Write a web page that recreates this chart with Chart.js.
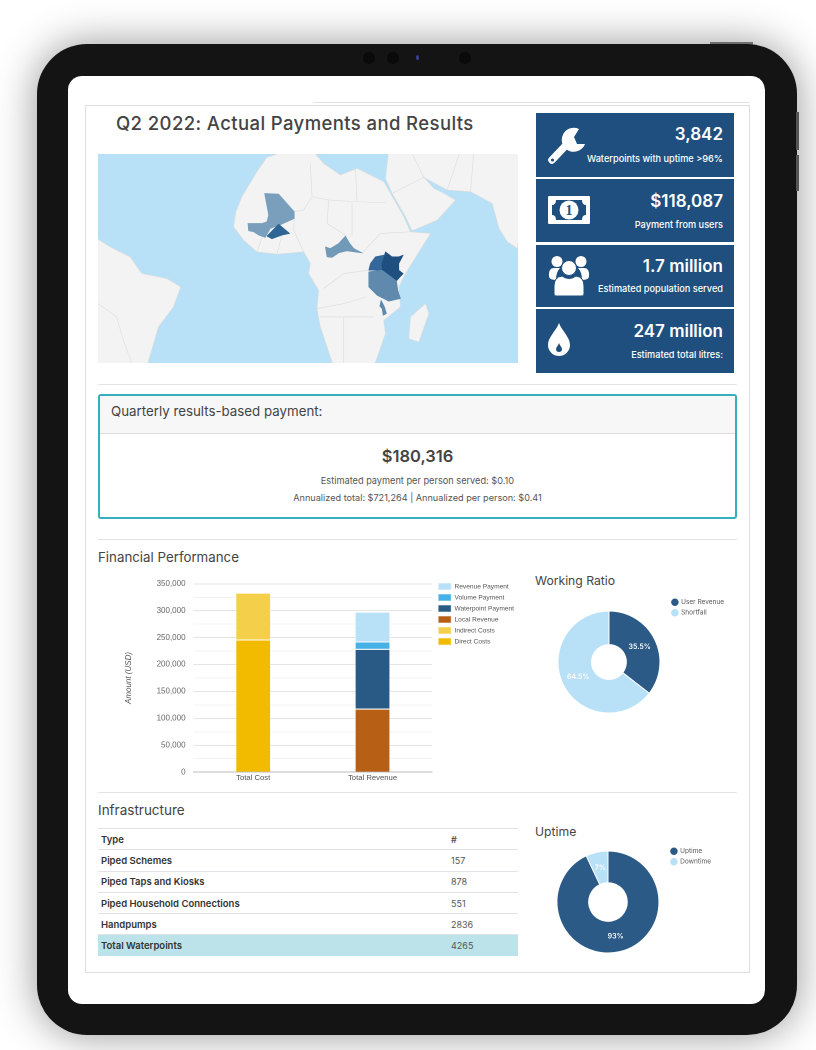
<!DOCTYPE html>
<html>
<head>
<meta charset="utf-8">
<script src="https://cdn.jsdelivr.net/npm/chart.js@4"></script>
<style>
html, body { margin: 0; padding: 0; background: #fff; }
body { width: 816px; height: 1050px; position: relative; overflow: hidden; font-family: Inter, sans-serif; color: #444; }
.box { position: absolute; box-sizing: border-box; }
.t { position: absolute; white-space: nowrap; transform: translateY(-50%); }
.line { position: absolute; height: 1px; background: #e2e2e2; }
.card { position: absolute; left: 536px; width: 198px; background: #1e4f7e; color: #fff; }
.card .v { position: absolute; right: 11px; font-size: 17px; font-weight: 600; transform: translateY(-50%); white-space: nowrap; }
.card .l { position: absolute; right: 11px; font-size: 9.2px; font-weight: 500; transform: translateY(-50%); white-space: nowrap; }
.card svg { position: absolute; }
canvas { position: absolute; }
table { position: absolute; left: 98px; top: 828px; width: 420px; border-collapse: collapse; table-layout: fixed; font-size: 9.5px; color: #333; border-top: 1px solid #dfe3e6; }
td { height: 20.3px; padding: 0 0 0 3px; border-bottom: 1px solid #dfe3e6; }
td:first-child { font-weight: 600; width: 347px; }
td:last-child { color: #555; font-size: 9px; }
tr.total td { background: #bde3ea; border-top: 1px solid #7fcbd8; border-bottom: 0; }
</style>
</head>
<body>
<!-- tablet frame -->
<div class="box" style="left:710px;top:42px;width:43px;height:4px;background:#888;"></div>
<div class="box" style="left:37px;top:44px;width:760px;height:991px;background:#141414;border-radius:50px;box-shadow:0 0 42px rgba(0,0,0,.42);"></div>
<div class="box" style="left:796px;top:112px;width:3px;height:38px;background:#555;"></div>
<div class="box" style="left:796px;top:155px;width:3px;height:36px;background:#555;"></div>
<div class="box" style="left:363px;top:52px;width:12px;height:12px;border-radius:50%;background:#0a0a0a;"></div>
<div class="box" style="left:387px;top:52px;width:12px;height:12px;border-radius:50%;background:#0a0a0a;"></div>
<div class="box" style="left:416px;top:55px;width:3px;height:5px;border-radius:50%;background:#3a3f9a;"></div>
<div class="box" style="left:459px;top:52px;width:12px;height:12px;border-radius:50%;background:#0a0a0a;"></div>
<div class="box" style="left:68px;top:76px;width:697px;height:928px;background:#fff;border-radius:14px;"></div>

<!-- dashboard frame -->
<div class="line" style="left:313px;top:102px;width:437px;"></div>
<div class="box" style="left:85px;top:105px;width:665px;height:868px;border:1px solid #dedede;"></div>

<div class="t" style="left:116px;top:123px;font-size:18.5px;font-weight:500;letter-spacing:.4px;color:#444;">Q2 2022: Actual Payments and Results</div>
<canvas id="mapChart" style="left:98px;top:154px;width:420px;height:209px;"></canvas>

<div id="cards"></div>

<div class="line" style="left:98px;top:384px;width:639px;"></div>
<div class="box" style="left:98px;top:394px;width:639px;height:125px;border:2px solid #35aebd;border-radius:3px;overflow:hidden;">
  <div class="box" style="left:0;top:0;width:100%;height:38px;background:#f7f7f7;border-bottom:1px solid #dcdcdc;"></div>
</div>
<div class="t" style="left:111px;top:411px;font-size:13.3px;font-weight:400;">Quarterly results-based payment:</div>
<div class="t" style="left:98px;width:639px;text-align:center;top:456px;font-size:16.5px;font-weight:600;">$180,316</div>
<div class="t" style="left:98px;width:639px;text-align:center;top:480px;font-size:9.2px;color:#555;">Estimated payment per person served: $0.10</div>
<div class="t" style="left:98px;width:639px;text-align:center;top:497px;font-size:9.15px;color:#555;">Annualized total: $721,264 | Annualized per person: $0.41</div>

<div class="line" style="left:98px;top:539px;width:639px;"></div>
<div class="t" style="left:98px;top:557px;font-size:13.3px;">Financial Performance</div>
<canvas id="barChart" style="left:124px;top:571px;width:406px;height:214px;"></canvas>
<div class="t" style="left:535px;top:580px;font-size:12.2px;">Working Ratio</div>
<canvas id="ratioChart" style="left:547px;top:592px;width:190px;height:140px;"></canvas>

<div class="line" style="left:98px;top:792px;width:639px;"></div>
<div class="t" style="left:98px;top:810px;font-size:13.5px;">Infrastructure</div>
<table id="infra"></table>
<div class="t" style="left:535px;top:831px;font-size:12.2px;">Uptime</div>
<canvas id="uptimeChart" style="left:540px;top:846px;width:190px;height:112px;"></canvas>

<script>
// stacked bars
const barCategories = ['Total Cost', 'Total Revenue'];
const directCosts = [246600, 0];
const indirectCosts = [87000, 0];
const localRevenue = [0, 118087];
const waterpointPayment = [0, 111000];
const volumePayment = [0, 13700];
const revenuePayment = [0, 55600];
const barTicks = [0, 50000, 100000, 150000, 200000, 250000, 300000, 350000];

// doughnuts
const ratioLabels = ['User Revenue', 'Shortfall'];
const ratioValues = [35.5, 64.5];
const uptimeLabels = ['Uptime', 'Downtime'];
const uptimeValues = [93, 7];

// table
const infraTypes = ['Piped Schemes', 'Piped Taps and Kiosks', 'Piped Household Connections', 'Handpumps'];
const infraCounts = [157, 878, 551, 2836];
const infraTotal = 4265;

// stat cards
const statValues = ['3,842', '$118,087', '1.7 million', '247 million'];
const statLabels = ['Waterpoints with uptime >96%', 'Payment from users', 'Estimated population served', 'Estimated total litres:'];

// map outlines, in map units
const africa = [[530,172],[500,215],[455,290],[437,335],[430,380],[460,420],[500,455],[560,462],[640,455],[660,490],[655,520],[685,570],[680,625],[690,680],[730,800],[850,800],[885,700],[880,660],[930,620],[925,560],[945,520],[1020,400],[960,395],[940,350],[880,245],[800,205],[750,225],[700,190],[665,150],[600,150]];
const asia = [[885,235],[895,150],[1290,150],[1290,370],[1280,445],[1250,425],[1225,385],[1205,310],[1140,275],[1070,270],[1000,232],[1030,265],[1060,280],[1095,300],[1040,360],[965,392],[945,350],[905,280]];
const brazil = [[10,408],[60,440],[120,470],[155,520],[230,535],[272,560],[250,620],[205,680],[170,800],[10,800]];
const madagascar = [[1005,610],[1015,640],[985,725],[955,715],[960,650]];
const mali = [[523,280],[565,282],[612,335],[612,355],[575,372],[540,385],[525,412],[505,405],[490,395],[475,392],[473,370],[515,370],[530,365],[535,345]];
const burkina = [[530,408],[565,372],[598,400],[575,405],[545,416]];
const car = [[705,440],[720,445],[745,430],[765,408],[778,430],[790,445],[815,458],[790,455],[770,452],[745,458],[725,472],[710,470]];
const uganda = [[835,510],[840,490],[855,470],[880,465],[875,510]];
const kenya = [[875,490],[885,455],[905,470],[925,470],[938,465],[925,490],[925,510],[938,520],[918,542],[875,512]];
const tanzania = [[835,515],[875,510],[918,542],[922,570],[930,595],[895,603],[860,585],[835,560]];
const malawi = [[872,600],[882,620],[888,640],[878,645],[875,625],[868,618]];
const borders = [
  [[660,190],[665,290],[640,330],[612,335]],
  [[795,205],[800,305],[715,300],[665,290]],
  [[800,305],[885,308]],
  [[715,300],[710,370],[770,408]],
  [[785,310],[785,410]],
  [[680,625],[760,610],[830,590]],
  [[690,650],[850,650]],
  [[760,650],[760,800]],
  [[835,510],[760,520],[700,565]],
  [[500,455],[520,400]],
  [[640,455],[610,390],[612,355]],
  [[560,462],[575,405]],
  [[815,458],[870,400],[960,395]],
  [[24,610],[80,650],[100,720],[130,800]],
  [[905,280],[1000,232]],
  [[960,150],[1000,232]],
  [[1070,270],[1110,150]],
  [[1140,275],[1150,150]]
];

const icons = [
  '<svg style="left:12px;top:14px" width="38" height="38" viewBox="0 0 38 38"><path d="M4 33 L21 15" stroke="#fff" stroke-width="7.5" stroke-linecap="round"/><path d="M31 2 A12 12 0 1 0 37 17 L29 17 L26 10 Z" fill="#fff"/><circle cx="4.5" cy="33" r="1.6" fill="#1e4f7e"/></svg>',
  '<svg style="left:12px;top:17px" width="42" height="28" viewBox="0 0 42 28"><rect width="42" height="28" rx="1" fill="#fff"/><path d="M8 4 H34 Q34 9 38 9 V19 Q34 19 34 24 H8 Q8 19 4 19 V9 Q8 9 8 4 Z" fill="#1e4f7e"/><circle cx="21" cy="14" r="9.5" fill="#fff"/><text x="21" y="19" text-anchor="middle" font-size="14" font-weight="700" fill="#1e4f7e" font-family="Liberation Serif">1</text></svg>',
  '<svg style="left:12px;top:11px" width="42" height="40" viewBox="0 0 42 40"><g fill="#fff"><circle cx="9" cy="5.5" r="5.5"/><circle cx="33" cy="5.5" r="5.5"/><path d="M1 21 Q0 12 6 12 H12 Q8 16 8 24 Q2 24 1 21 Z"/><path d="M41 21 Q42 12 36 12 H30 Q34 16 34 24 Q40 24 41 21 Z"/><circle cx="21" cy="12" r="7.5" stroke="#1e4f7e" stroke-width="1"/><path d="M6 38 V30 Q6 21 14 20 Q21 25 28 20 Q36 21 36 30 V38 Q36 40 34 40 H8 Q6 40 6 38 Z" stroke="#1e4f7e" stroke-width="1"/></g></svg>',
  '<svg style="left:12px;top:14px" width="22" height="33" viewBox="0 0 22 33"><path d="M11 0 C14 8 22 14 22 22 A11 11 0 0 1 0 22 C0 14 8 8 11 0 Z" fill="#fff"/><path d="M11 20 C12 23 14 24 14 26 A3 3 0 0 1 8 26 C8 24 10 23 11 20 Z" fill="#1e4f7e"/></svg>'
];
const cardBoxes = [[113, 64], [179, 63], [245, 62], [309, 64]];
const cardText = [[21, 45], [22, 45], [21, 43], [22, 45]];

let cardsHtml = '';
statValues.forEach(function(v, i) {
  cardsHtml += '<div class="card" style="top:' + cardBoxes[i][0] + 'px;height:' + cardBoxes[i][1] + 'px">' + icons[i] +
    '<div class="v" style="top:' + cardText[i][0] + 'px">' + v + '</div>' +
    '<div class="l" style="top:' + cardText[i][1] + 'px">' + statLabels[i].replace('>', '&gt;') + '</div></div>';
});
document.getElementById('cards').innerHTML = cardsHtml;

let rows = '<tr><td>Type</td><td style="font-weight:600">#</td></tr>';
infraTypes.forEach(function(t, i) {
  rows += '<tr><td>' + t + '</td><td>' + infraCounts[i] + '</td></tr>';
});
rows += '<tr class="total"><td>Total Waterpoints</td><td>' + infraTotal + '</td></tr>';
document.getElementById('infra').innerHTML = rows;

Chart.defaults.animation = false;
Chart.defaults.responsive = false;
Chart.defaults.devicePixelRatio = 2;

// choropleth drawn as filled scatter lines
function shape(points, color, line) {
  return {
    data: points.map(function(p) { return { x: p[0], y: p[1] }; }).concat([{ x: points[0][0], y: points[0][1] }]),
    showLine: true, fill: 'shape', backgroundColor: color, borderColor: line || color,
    borderWidth: 0.6, pointRadius: 0, tension: 0
  };
}
const mapDatasets = [
  shape(africa, '#f3f3f3', '#dddddd'),
  shape(asia, '#f3f3f3', '#dddddd'),
  shape(brazil, '#f3f3f3', '#dddddd'),
  shape(madagascar, '#f3f3f3', '#dddddd')
];
borders.forEach(function(b) {
  mapDatasets.push({
    data: b.map(function(p) { return { x: p[0], y: p[1] }; }),
    showLine: true, fill: false, borderColor: '#dddddd', borderWidth: 0.6, pointRadius: 0, tension: 0
  });
});
mapDatasets.push(shape(mali, '#7a9fbc'), shape(burkina, '#2f6594'), shape(car, '#7199b8'),
  shape(uganda, '#35689a'), shape(kenya, '#1f4f80'), shape(tanzania, '#5f8aae'), shape(malawi, '#5f8aae'));
// first dataset is painted last, so land goes to the end
mapDatasets.reverse();

new Chart(document.getElementById('mapChart'), {
  type: 'scatter',
  data: { datasets: mapDatasets },
  options: {
    layout: { padding: 0 },
    plugins: { legend: { display: false }, tooltip: { enabled: false } },
    scales: {
      x: { display: false, min: 24, max: 1282 },
      y: { display: false, min: 162, max: 788, reverse: true }
    }
  },
  plugins: [{
    id: 'sea',
    beforeDraw: function(c) {
      c.ctx.fillStyle = '#b8e1f7';
      c.ctx.fillRect(0, 0, c.width, c.height);
    }
  }]
});

// nudges a legend after layout
function legendNudge(dx, dy) {
  return {
    id: 'legendNudge',
    afterLayout: function(c) {
      c.legend.left += dx;
      c.legend.right += dx;
      c.legend.top += dy;
      c.legend.bottom += dy;
    }
  };
}

// bar chart
function barSet(label, data, color) {
  return { label: label, data: data, backgroundColor: color, borderColor: 'rgba(255,255,255,0.55)', borderWidth: 1, barPercentage: 0.3, categoryPercentage: 1 };
}
new Chart(document.getElementById('barChart'), {
  type: 'bar',
  data: {
    labels: barCategories,
    datasets: [
      barSet('Direct Costs', directCosts, '#f2bb00'),
      barSet('Indirect Costs', indirectCosts, '#f4cf4a'),
      barSet('Local Revenue', localRevenue, '#b85f16'),
      barSet('Waterpoint Payment', waterpointPayment, '#285a85'),
      barSet('Volume Payment', volumePayment, '#45b1e6'),
      barSet('Revenue Payment', revenuePayment, '#b8e1f7')
    ]
  },
  options: {
    layout: { padding: { top: 0, bottom: 0, left: 0, right: 8 } },
    plugins: {
      tooltip: { enabled: false },
      legend: {
        position: 'right', align: 'start', reverse: true,
        labels: { boxWidth: 13, boxHeight: 7, padding: 4, color: '#555', font: { family: 'Liberation Sans', size: 6.6 } }
      }
    },
    scales: {
      x: {
        stacked: true,
        grid: { display: false, drawTicks: false },
        border: { color: '#bbbbbb', width: 1 },
        ticks: { color: '#555', font: { family: 'Liberation Sans', size: 7.7 }, padding: 1 }
      },
      y: {
        stacked: true, min: 0, max: 350000,
        afterBuildTicks: function(axis) {
          const out = [];
          barTicks.forEach(function(v, i) {
            out.push({ value: v });
            if (i < barTicks.length - 1) out.push({ value: v + 25000 });
          });
          axis.ticks = out;
        },
        grid: {
          drawTicks: false,
          color: function(c) { return c.tick.value % 50000 === 0 ? '#e4e4e4' : '#f2f2f2'; }
        },
        border: { display: false },
        ticks: {
          padding: 8, color: '#666', font: { family: 'Liberation Sans', size: 8 },
          callback: function(v) { return barTicks.includes(v) ? v.toLocaleString('en-US') : ''; }
        },
        title: { display: true, text: 'Amount (USD)', color: '#555', padding: { top: 0, bottom: 15 }, font: { family: 'Liberation Sans', size: 8, style: 'italic' } }
      }
    }
  },
  plugins: [legendNudge(2, 8)]
});

// doughnut value labels
const sliceLabels = {
  id: 'sliceLabels',
  afterDatasetsDraw: function(c) {
    const ctx = c.ctx;
    ctx.save();
    ctx.fillStyle = '#fff';
    ctx.font = '600 7px Inter';
    ctx.textAlign = 'center';
    ctx.textBaseline = 'middle';
    c.getDatasetMeta(0).data.forEach(function(arc, i) {
      const p = arc.tooltipPosition();
      ctx.fillText(c.data.datasets[0].data[i] + '%', p.x, p.y);
    });
    ctx.restore();
  }
};
function doughnut(id, labels, values, dx, dy) {
  new Chart(document.getElementById(id), {
    type: 'doughnut',
    data: { labels: labels, datasets: [{ data: values, backgroundColor: ['#2b5a86', '#b8e1f7'], borderColor: '#fff', borderWidth: 1 }] },
    options: {
      radius: 51, cutout: 21,
      plugins: {
        tooltip: { enabled: false },
        legend: {
          position: 'right', align: 'start',
          labels: { usePointStyle: true, pointStyle: 'circle', boxWidth: 6, boxHeight: 6, padding: 4, color: '#555', font: { family: 'Inter', size: 6.5 } }
        }
      }
    },
    plugins: [sliceLabels, legendNudge(dx, dy)]
  });
}
doughnut('ratioChart', ratioLabels, ratioValues, -3, 3);
doughnut('uptimeChart', uptimeLabels, uptimeValues, -9, -2);
</script>
</body>
</html>
